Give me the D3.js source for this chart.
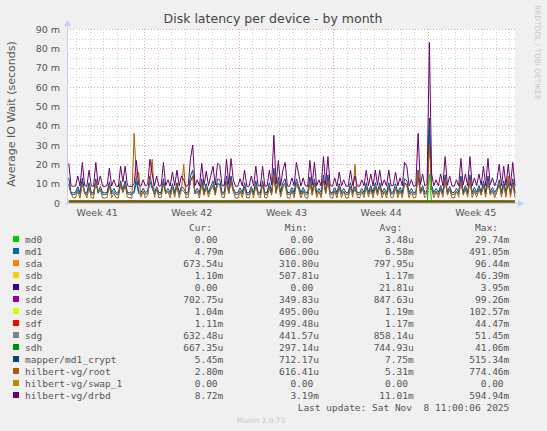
<!DOCTYPE html>
<html><head><meta charset="utf-8">
<script src="https://cdn.jsdelivr.net/npm/d3@7"></script>
<style>body{margin:0;background:#f0f0f0}svg{display:block}</style>
</head><body><svg id="c" width="547" height="431"></svg>
<script>
// ---------- data (milliseconds of IO wait, 4-hour samples ending at last update) ----------
const drbd = [20.5,9,8.6,8.8,14,8.7,21,9.2,8.5,17,
8.8,8.6,21,9.5,14,8.7,8.5,9,18,8.8,
12,8.6,8.5,19,11,19,9,8.6,8.5,10,
22,9.4,8.7,12,8.8,9.5,22.6,15,8.8,14,
8.7,8.9,21,9,12,8.8,16,9,17,8.7,
14,12,8.6,9.2,23,30,9.1,12,8.7,20.5,
9,16.5,9,14,19,9.3,20.5,19.6,8.9,9,
22.6,9.5,23,12,8.6,8.7,12.6,8.8,17,8.6,
8.7,14,8.8,19,9,8.7,19,8.6,8.8,17,
9.4,35,10,22,9,17,21,8.8,8.6,13,
8.9,21,15,8.7,13,8.8,8.6,22,9.2,21,
8.9,12,8.8,24,9.6,24,9,8.6,13,8.7,
16,8.9,12,8.7,8.6,17,9,14,8.8,8.6,
12,8.9,17,9,15,8.8,17,9.2,17,8.8,
12,8.7,17,8.9,9.1,16,8.8,13,8.9,21,
19,8.8,12,8.6,9,36,9.5,15,8.8,10,
83,15,8.9,12,8.8,15,9,24,9.2,14,
8.8,8.7,12,9,23,9.3,15,9,24,8.9,
13,9,15,9.2,19,9,23,9.4,13,8.8,
12,20,9,19,9.1,20,9,21,8.72];

const md1 = [10,4.6,4.3,4.5,7,4.4,11,4.8,4.3,8.5,
4.5,4.4,10.5,5,7,4.4,4.3,4.7,9,4.5,
6,4.4,4.3,9.5,5.5,9.5,4.7,4.4,4.3,5.2,
11,4.9,4.4,6,4.5,5,11,7.5,4.5,7,
4.4,4.6,10.5,4.7,6,4.5,8,4.7,8.5,4.4,
7,6,4.4,4.8,11.5,14,4.7,6,4.4,10,
4.7,8,4.7,7,9.5,4.8,10,9.8,4.6,4.7,
11,5,11.5,6,4.4,4.4,6.3,4.5,8.5,4.4,
4.4,7,4.5,9.5,4.7,4.4,9.5,4.4,4.5,8.5,
4.9,14,5.2,11,4.7,8.5,10.5,4.5,4.4,6.5,
4.6,10.5,7.5,4.4,6.5,4.5,4.4,11,4.8,10.5,
4.6,6,4.5,12,5,12,4.7,4.4,6.5,4.4,
8,4.6,6,4.4,4.4,8.5,4.7,7,4.5,4.4,
6,4.6,8.5,4.7,7.5,4.5,8.5,4.8,8.5,4.5,
6,4.4,8.5,4.6,4.7,8,4.5,6.5,4.6,10.5,
9.5,4.5,6,4.4,4.7,14,5,7.5,4.5,5.2,
38,7.5,4.6,6,4.5,7.5,4.7,12,4.8,7,
4.5,4.4,6,4.7,11.5,4.8,7.5,4.7,12,4.6,
6.5,4.7,7.5,4.8,9.5,4.7,11.5,4.9,6.5,4.5,
6,10,4.7,9.5,4.7,10,4.7,10.5,4.79];

const mapper = [13,5.4,5.2,5.5,8.5,5.3,13,5.8,5.2,10.5,
5.5,5.3,12.5,6,8.5,5.4,5.2,5.6,11,5.5,
7.5,5.3,5.2,11.5,6.8,11.5,5.6,5.3,5.2,6,
13.5,5.9,5.4,7.5,5.5,6,14,9,5.5,8.5,
5.4,5.5,12.5,5.6,7.5,5.5,10,5.6,10.5,5.4,
8.5,7.5,5.3,5.8,14,17,5.7,7.5,5.4,12.5,
5.6,10,5.6,8.5,11.5,5.8,12.5,12,5.5,5.6,
14,6,14,7.5,5.3,5.4,7.8,5.5,10.5,5.3,
5.4,8.5,5.5,11.5,5.6,5.4,11.5,5.3,5.5,10.5,
5.9,18,6.2,13.5,5.6,10.5,12.5,5.5,5.3,8,
5.5,12.5,9,5.4,8,5.5,5.3,13.5,5.8,12.5,
5.5,7.5,5.5,14.5,6,14.5,5.6,5.3,8,5.4,
10,5.5,7.5,5.4,5.3,10.5,5.6,8.5,5.5,5.3,
7.5,5.5,10.5,5.6,9,5.5,10.5,5.8,10.5,5.5,
7.5,5.4,10.5,5.5,5.7,10,5.5,8,5.5,12.5,
11.5,5.5,7.5,5.3,5.6,17,6,9,5.5,6,
44,9,5.5,7.5,5.5,9,5.6,14.5,5.8,8.5,
5.5,5.4,7.5,5.6,14,5.8,9,5.6,14.5,5.5,
8,5.6,9,5.8,11.5,5.6,14,5.9,8,5.5,
7.5,12,5.6,11.5,5.7,12,5.6,12.5,5.45];

const root = [9,5,2.6,2.8,6,2.5,10,5.5,2.6,8,
2.7,2.5,11,6,7,2.6,2.5,3,9,2.7,
5,2.6,2.5,10,5.5,9,3,2.6,2.5,36,
12,16,3,6,2.7,4,12,22.6,3,7,
2.6,2.8,10,5,6,2.7,8,3,9,2.6,
7,20,2.6,3,11,14,5,6,2.6,10,
4,8,3,7,9,4,10,9,3,2.8,
11,5,11,6,2.6,2.5,6,2.7,8,2.6,
2.5,7,2.7,9,4,2.6,10,2.6,2.7,8,
4,15,5,11,3,8,10,2.7,2.5,6,
2.8,10,7,2.6,6,2.7,2.5,11,4,10,
2.8,6,2.7,12,5,11,3,2.5,6,2.6,
8,2.8,6,2.6,2.5,8,3,20,3,2.6,
6,2.8,8,3,7,2.7,8,4,9,2.7,
6,2.6,8,2.8,3,8,2.7,6,2.8,10,
9,2.7,6,2.5,3,16,5,7,2.7,4,
30,7,2.8,6,2.7,7,3,12,4,7,
2.7,2.6,6,3,11,4,7,3,12,2.8,
6,3,7,4,9,3,11,4,6,2.7,
6,10,3,9,3,14,3,10,2.8];

// daily samples for the quiet disks
const sda = [0.78,0.82,0.75,0.8,0.85,0.79,0.77,0.81,0.8,0.83,0.76,0.79,0.8,0.78,0.82,0.84,0.77,0.8,0.79,0.81,0.78,0.8,0.83,0.77,0.79,0.8,0.82,0.78,0.8,0.81,0.79,0.77,0.8,0.67];
const sdb = [1.15,1.2,1.17,1.14,1.19,1.18,1.16,1.2,1.15,1.17,1.19,1.16,1.18,1.15,1.2,1.17,1.16,1.19,1.18,1.15,1.17,1.2,1.16,1.18,1.17,1.15,1.19,1.16,1.18,1.2,1.17,1.15,1.18,1.10];
const sdd = [0.84,0.87,0.83,0.86,0.85,0.82,0.88,0.84,0.86,0.85,0.83,0.87,0.84,0.86,0.85,0.82,0.86,0.84,0.87,0.85,0.83,0.86,0.84,0.85,0.87,0.83,0.86,0.84,0.85,0.86,0.83,0.85,0.84,0.70];
const sde = [1.18,1.21,1.17,1.2,1.19,1.22,1.18,1.2,1.17,1.19,1.21,1.18,1.2,1.19,1.17,1.22,1.18,1.2,1.19,1.21,1.17,1.19,1.2,1.18,1.22,1.19,1.17,1.2,1.18,1.21,1.19,1.18,1.2,1.04];
const sdf = [1.16,1.19,1.15,1.18,1.17,1.2,1.16,1.18,1.15,1.17,1.19,1.16,1.18,1.17,1.15,1.2,1.16,1.18,1.17,1.19,1.15,1.17,1.18,1.16,1.2,1.17,1.15,1.18,1.16,1.19,1.17,1.16,1.18,1.11];
const sdg = [0.85,0.88,0.84,0.87,0.86,0.83,0.89,0.85,0.87,0.86,0.84,0.88,0.85,0.87,0.86,0.83,0.87,0.85,0.88,0.86,0.84,0.87,0.85,0.86,0.88,0.84,0.87,0.85,0.86,0.87,0.84,0.86,0.85,0.63];
const sdh = [0.73,0.76,0.72,0.75,0.74,0.71,0.77,0.73,0.75,0.74,0.72,0.76,0.73,0.75,0.74,0.71,0.75,0.73,0.76,0.74,0.72,0.75,0.73,0.74,0.76,0.72,0.75,0.73,0.74,0.75,0.72,0.74,0.73,0.67];

// sparse series: sample index (4-hour grid) and value
const md0Idx = [0,159,160,161,198], md0Val = [0,0,15,0,0];
const sdcIdx = [0,198], sdcVal = [0,0];
const swapIdx = [0,198], swapVal = [0,0];

const names  = ["md0","md1","sda","sdb","sdc","sdd","sde","sdf","sdg","sdh","mapper/md1_crypt","hilbert-vg/root","hilbert-vg/swap_1","hilbert-vg/drbd"];
const colors = ["#00CC00","#0066B3","#FF8000","#FFCC00","#330099","#990099","#CCFF00","#FF0000","#808080","#008F00","#00487D","#B35A00","#B38F00","#6B006B"];
const curVals = ["0.00","4.79m","673.54u","1.10m","0.00","702.75u","1.04m","1.11m","632.48u","667.35u","5.45m","2.80m","0.00","8.72m"];
const minVals = ["0.00","606.00u","310.80u","507.81u","0.00","349.83u","495.00u","499.48u","441.57u","297.14u","712.17u","616.41u","0.00","3.19m"];
const avgVals = ["3.48u","6.58m","797.95u","1.17m","21.81u","847.63u","1.19m","1.17m","858.14u","744.93u","7.75m","5.31m","0.00","11.01m"];
const maxVals = ["29.74m","491.05m","96.44m","46.39m","3.95m","99.26m","102.57m","44.47m","51.45m","41.06m","515.34m","774.46m","0.00","594.94m"];
const colHeads = ["Cur:","Min:","Avg:","Max:"];

const yTicks = [0,10,20,30,40,50,60,70,80,90];
const yTickLabels = ["0","10 m","20 m","30 m","40 m","50 m","60 m","70 m","80 m","90 m"];
const weekLabels = ["Week 41","Week 42","Week 43","Week 44","Week 45"];
const weekCentres = [Date.UTC(2025,9,8,12),Date.UTC(2025,9,15,12),Date.UTC(2025,9,22,12),Date.UTC(2025,9,29,12),Date.UTC(2025,10,5,12)];

// ---------- drawing ----------
const svg = d3.select("#c");
const W = 547, H = 431;
svg.append("rect").attr("width",W).attr("height",H).attr("fill","#f0f0f0");
const L = 67, R = 515, T = 29, B = 203;
const T1 = Date.UTC(2025,10,8,10,30), T0 = Date.UTC(2025,9,6,7,20);
const STEP = 4*3600*1000, DAY = 24*3600*1000;
const N = drbd.length - 1;
const tOf = i => new Date(T1 - (N - i)*STEP);

const x = d3.scaleUtc().domain([new Date(T0), new Date(T1)]).range([L, R]);
const y = d3.scaleLinear().domain([0, 90]).range([B, T]);

svg.append("rect").attr("x",L).attr("y",T).attr("width",R-L).attr("height",B-T).attr("fill","#ffffff");

const grid = svg.append("g");
const minorC = "#cfcfcf", majorC = "#e8a4a4";
// horizontal
d3.range(5, 90, 10).forEach(v => grid.append("line").attr("x1",L).attr("x2",R)
  .attr("y1",Math.round(y(v))+0.5).attr("y2",Math.round(y(v))+0.5)
  .attr("stroke",minorC).attr("stroke-dasharray","1,2"));
yTicks.filter(v=>v>0).forEach(v => grid.append("line").attr("x1",L).attr("x2",R)
  .attr("y1",Math.round(y(v))+0.5).attr("y2",Math.round(y(v))+0.5)
  .attr("stroke",majorC).attr("stroke-dasharray","1,2"));
// vertical
d3.utcDay.range(new Date(T0), new Date(T1)).filter(d=>d.getUTCDay()!==0).forEach(d =>
  grid.append("line").attr("x1",Math.round(x(d))+0.5).attr("x2",Math.round(x(d))+0.5)
  .attr("y1",T).attr("y2",B).attr("stroke",minorC).attr("stroke-dasharray","1,2"));
d3.utcSunday.range(new Date(T0), new Date(T1)).forEach(d =>
  grid.append("line").attr("x1",Math.round(x(d))+0.5).attr("x2",Math.round(x(d))+0.5)
  .attr("y1",T).attr("y2",B).attr("stroke",majorC).attr("stroke-dasharray","1,2"));

// data lines
const line = d3.line().x(d => x(d.t)).y(d => y(d.v));
const fromArr = a => a.map((v,i) => ({t: tOf(i), v}));
const fromDaily = a => a.map((v,i) => ({t: tOf(i*6), v}));
const fromSparse = (ix, vs) => ix.map((k,j) => ({t: tOf(k), v: vs[j]}));
const seriesData = [
  fromSparse(md0Idx, md0Val), fromArr(md1), fromDaily(sda), fromDaily(sdb),
  fromSparse(sdcIdx, sdcVal), fromDaily(sdd), fromDaily(sde), fromDaily(sdf),
  fromDaily(sdg), fromDaily(sdh), fromArr(mapper), fromArr(root),
  fromSparse(swapIdx, swapVal), fromArr(drbd)
];
const dataG = svg.append("g");
seriesData.forEach((d,i) => dataG.append("path").attr("d", line(d))
  .attr("fill","none").attr("stroke",colors[i]).attr("stroke-width",1).attr("stroke-linejoin","round"));

// axes lines + arrows
const axC = "#c9cdf5";
svg.append("line").attr("x1",L+0.5).attr("x2",L+0.5).attr("y1",B+2).attr("y2",T-5).attr("stroke",axC);
svg.append("line").attr("x1",L-2).attr("x2",R+4).attr("y1",B+0.5).attr("y2",B+0.5).attr("stroke",axC);
svg.append("path").attr("d",`M${L-3},${T-3}L${L+0.5},${T-9}L${L+4},${T-3}Z`).attr("fill",axC);
svg.append("path").attr("d",`M${R+3},${B-3}L${R+9},${B+0.5}L${R+3},${B+4}Z`).attr("fill",axC);

// y axis labels
const yAxis = d3.axisLeft(y).tickValues(yTicks).tickFormat((d,i)=>yTickLabels[i]).tickSize(0).tickPadding(7);
const gy = svg.append("g").attr("transform",`translate(${L},0)`).call(yAxis);
gy.select(".domain").remove();
gy.selectAll("text").attr("font-family","DejaVu Sans").attr("font-size","9.5px").attr("fill","#555");

// x axis labels
const xAxis = d3.axisBottom(x).tickValues(weekCentres.map(t=>new Date(t))).tickFormat((d,i)=>weekLabels[i]).tickSize(0);
const gx = svg.append("g").attr("transform",`translate(0,${B})`).call(xAxis);
gx.select(".domain").remove();
gx.selectAll("text").attr("y",13).attr("dy",0).attr("font-family","DejaVu Sans").attr("font-size","9.5px").attr("fill","#555");

// title, y label, watermark
svg.append("text").attr("x",273).attr("y",23).attr("text-anchor","middle")
  .attr("font-family","DejaVu Sans").attr("font-size","12.5px").attr("fill","#444")
  .text("Disk latency per device - by month");
svg.append("text").attr("transform","translate(15,114) rotate(-90)").attr("text-anchor","middle")
  .attr("font-family","DejaVu Sans").attr("font-size","11px").attr("fill","#555")
  .text("Average IO Wait (seconds)");
svg.append("text").attr("transform","translate(535,5) rotate(90)").attr("text-anchor","start")
  .attr("font-family","DejaVu Sans").attr("font-size","7.4px").attr("fill","#c8c8c8")
  .text("RRDTOOL / TOBI OETIKER");

// legend
const cw = 5.7;
const mono = "DejaVu Sans Mono";
const colRight = [223.3, 319, 413.7, 509.3];
const leg = svg.append("g").attr("font-family",mono).attr("font-size","9.5px").attr("fill","#555");
colHeads.forEach((h,k) => leg.append("text").attr("x",colRight[k]-2*cw).attr("y",231).attr("text-anchor","end").text(h));
const cols = [curVals, minVals, avgVals, maxVals];
names.forEach((n,i) => {
  const yy = 243 + i*12;
  leg.append("rect").attr("x",13).attr("y",yy-7).attr("width",6).attr("height",6).attr("fill",colors[i]);
  leg.append("text").attr("x",25).attr("y",yy).text(n);
  cols.forEach((arr,k) => {
    const s = arr[i];
    const hasUnit = /[a-z]$/.test(s);
    leg.append("text").attr("x",colRight[k] - (hasUnit?0:cw)).attr("y",yy).attr("text-anchor","end").text(s);
  });
});
leg.append("text").attr("x",509.3).attr("y",411).attr("text-anchor","end")
  .attr("xml:space","preserve").style("white-space","pre")
  .text("Last update: Sat Nov  8 11:00:06 2025");
svg.append("text").attr("x",261).attr("y",423).attr("text-anchor","middle")
  .attr("font-family","DejaVu Sans").attr("font-size","7.4px").attr("fill","#c8c8c8")
  .text("Munin 2.0.73");
</script></body></html>
